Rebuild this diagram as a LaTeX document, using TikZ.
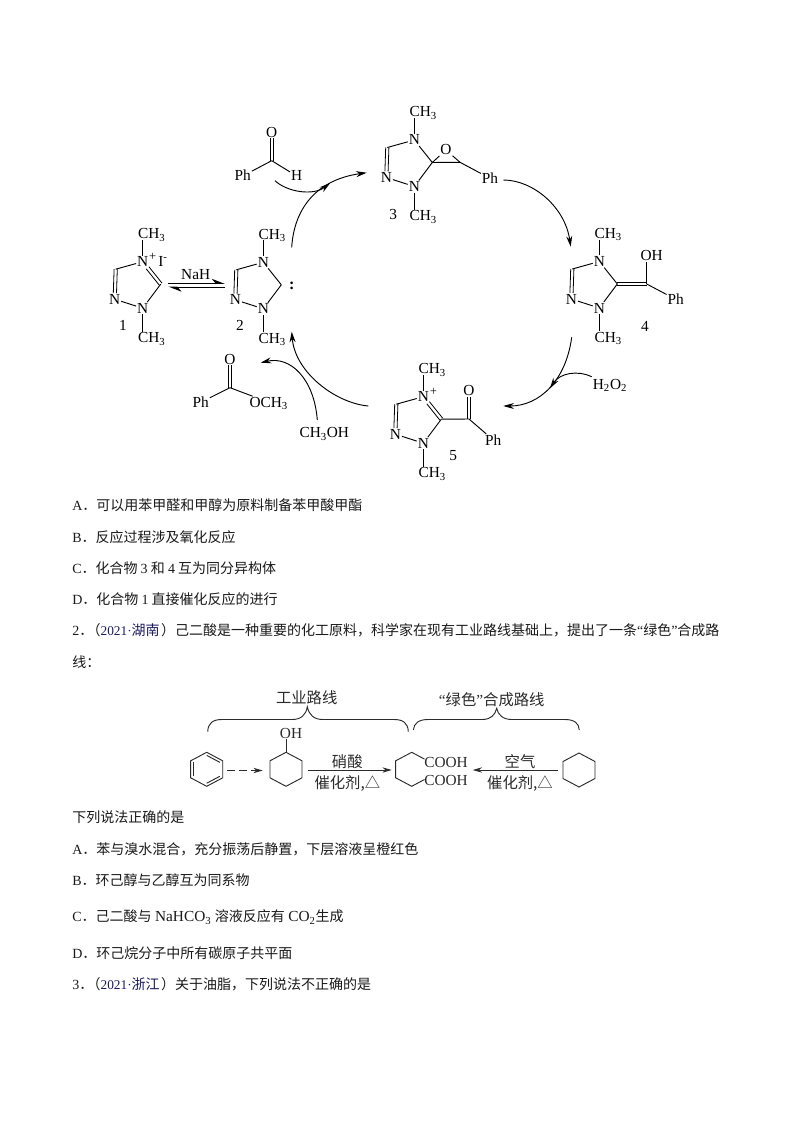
\documentclass[tikz,border=0pt]{standalone}
\usepackage{fontspec}
\setmainfont{Liberation Serif}
\newfontfamily\cjk{Noto Sans CJK SC}
\usetikzlibrary{arrows.meta,calc}
\definecolor{txt}{HTML}{1A1A1A}
\definecolor{schem}{HTML}{2B2B2B}
\definecolor{srctxt}{HTML}{1B1B5E}
\tikzset{
  atom/.style={inner sep=0.6pt,font=\fontsize{11.5}{13}\selectfont,text=black,text height=7.5pt,text depth=0pt},
  lab/.style={inner sep=0pt,font=\fontsize{11.5}{13}\selectfont,text=black,text height=7.5pt,text depth=0pt},
  bond/.style={line width=0.7pt,black},
  curvearrow/.style={line width=0.7pt,black,-{Stealth[length=8pt,width=4.5pt]}},
  line/.style={anchor=west,inner sep=0pt,font=\fontsize{10.5}{12}\selectfont,text=txt,text height=8.5pt,text depth=1.5pt},
  ring/.style={line width=0.7pt,schem},
  slab/.style={inner sep=0pt,font=\fontsize{11.5}{13}\selectfont,text=schem,text height=8pt,text depth=0pt},
  sarrow/.style={line width=0.7pt,schem,-{Stealth[length=7pt,width=4pt]}},
  brace/.style={line width=0.7pt,schem},
}
\newcommand\sub[1]{\textsubscript{#1}}
% double bond between two named points: two lines shifted by (+-dx,+-dy) pt
\newcommand\dbond[4]{%
  \draw[bond,line width=0.6pt,transform canvas={xshift=#3pt,yshift=#4pt}] (#1) -- (#2);
  \draw[bond,line width=0.6pt,transform canvas={xshift=-#3pt,yshift=-#4pt}] (#1) -- (#2);
}
\newcommand\triaz[3]{%
  \node[atom] (#1nt) at (#2,#3) {N};
  \node[atom] (#1nb) at (#2,#3+46.5) {N};
  \node[atom] (#1nl) at (#2-28,#3+37.5) {N};
  \coordinate (#1h) at (#2-27,#3+7.5);
  \coordinate (#1c) at (#2+18,#3+22.5);
  \node[atom] (#1mt) at (#2+9,#3-28) {CH\sub{3}};
  \node[atom] (#1mb) at (#2+9,#3+76) {CH\sub{3}};
  \dbond{#1h}{#1nl}{1.2}{0}
  \draw[bond] (#1h) -- (#1nt);
  \draw[bond] (#1nl) -- (#1nb);
  \draw[bond] (#1nb) -- (#1c);
  \draw[bond] (#1nt) -- (#1nt |- #1mt.south);
  \draw[bond] (#1nb) -- (#1nb |- #1mb.north);
}
\newcommand\hexring[3]{%
  \coordinate (#1o) at (#2,#3);
  \foreach \i/\a in {1/90,2/150,3/210,4/270,5/330,6/30}{\coordinate (#1\i) at ($(#2,#3)+(\a:18.5 and -17)$);}
}
\begin{document}
\begin{tikzpicture}[x=0.75pt,y=-0.75pt]
\useasboundingbox (0,0) rectangle (794,1123);
\fill[white] (0,0) rectangle (794,1123);
% compound 1
\triaz{a}{142.7}{261.7}
\dbond{ant}{ac}{1}{0.8}
\node[lab] (aplus) at (152.7,255.5) {\fontsize{9.5}{9}\selectfont +};
\node[lab] (aiod) at (163,261.7) {I\textsuperscript{-}};
\node[lab] (al) at (123,325) {1};
% compound 2
\triaz{b}{263.3}{262.3}
\draw[bond] (bnt) -- (bc);
\node[lab,font=\bfseries\fontsize{12}{12}\selectfont] (bcol) at (291.7,284) {:};
\node[lab] (bl) at (240,325) {2};
% NaH
\node[lab] (nah) at (195.7,274) {NaH};
\coordinate (e1a) at (168.3,283.5); \coordinate (e1b) at (225,283.5);
\coordinate (e2a) at (225,287); \coordinate (e2b) at (168.3,287);
\draw[line width=0.7pt,black,-{Stealth[length=9pt,width=7pt,left]}] (e1a) -- (e1b);
\draw[line width=0.7pt,black,-{Stealth[length=9pt,width=7pt,left]}] (e2a) -- (e2b);
% benzaldehyde
\node[atom] (ao) at (271.7,132.3) {O};
\coordinate (acc) at (271.7,160.7);
\node[atom] (aph) at (242.7,176) {Ph};
\node[atom] (ahh) at (296.7,176) {H};
\dbond{acc}{ao}{1.2}{0}
\draw[bond] (acc) -- (aph);
\draw[bond] (acc) -- (ahh);
% compound 3
\triaz{c}{414.3}{140}
\draw[bond] (cnt) -- (cc);
\node[atom] (co) at (446,150) {O};
\coordinate (ce) at (460,162.3);
\node[atom] (cph) at (490,178.3) {Ph};
\draw[bond] (cc) -- (co);
\draw[bond] (co) -- (ce);
\draw[bond] (cc) -- (ce);
\draw[bond] (ce) -- (cph);
\node[lab] (cl) at (393.3,214.3) {3};
% compound 4
\triaz{d}{599.3}{261.5}
\draw[bond] (dnt) -- (dc);
\coordinate (de) at (646.7,284);
\node[atom] (doh) at (651.7,255.7) {OH};
\node[atom] (dph) at (675.7,299.3) {Ph};
\dbond{dc}{de}{0}{0.9}
\draw[bond] (de) -- (de |- doh.south);
\draw[bond] (de) -- (dph);
\node[lab] (dl) at (645,326.7) {4};
% compound 5
\triaz{e}{423.3}{396.7}
\dbond{ent}{ec}{1}{0.8}
\node[lab] (eplus) at (433.5,390) {\fontsize{9.5}{9}\selectfont +};
\coordinate (ek) at (469,419);
\node[atom] (eo) at (469,390.7) {O};
\node[atom] (eph) at (493.3,440) {Ph};
\draw[bond] (ec) -- (ek);
\dbond{ek}{eo}{1.2}{0}
\draw[bond] (ek) -- (eph);
\node[lab] (el) at (453.3,455) {5};
% ester
\node[atom] (fo) at (230,359) {O};
\coordinate (fc) at (230,387.7);
\node[atom] (fph) at (200.7,402.3) {Ph};
\node[atom] (fm) at (268.7,402.3) {OCH\sub{3}};
\dbond{fc}{fo}{1.2}{0}
\draw[bond] (fc) -- (fph);
\draw[bond] (fc) -- (fm);
\node[atom] (meoh) at (324.3,432.7) {CH\sub{3}OH};
\node[atom] (hoo) at (610,384) {H\sub{2}O\sub{2}};
% cycle arrows
\coordinate (p1) at (291.7,247.3); \coordinate (p2) at (366.7,172.7);
\coordinate (p3) at (503.3,180); \coordinate (p4) at (570.7,246.7);
\coordinate (p5) at (571.7,337.3); \coordinate (p6) at (503.3,406);
\coordinate (p7) at (368.3,406); \coordinate (p8) at (291.7,331.7);
\coordinate (q1) at (275,180.7); \coordinate (q2) at (330,183.3);
\coordinate (q3) at (591.7,376.7); \coordinate (q4) at (550,388.3);
\coordinate (q5) at (317.3,420); \coordinate (q6) at (260.7,362.7);
\draw[curvearrow] (p1) .. controls (294,210) and (315,180) .. (p2);
\draw[curvearrow] (p3) .. controls (533,180) and (565,207) .. (p4);
\draw[curvearrow] (p5) .. controls (566,380) and (540,406) .. (p6);
\draw[curvearrow] (p7) .. controls (335,403) and (295,372) .. (p8);
\draw[curvearrow] (q1) .. controls (287,192) and (313,196) .. (q2);
\draw[curvearrow] (q3) .. controls (578,370) and (560,373) .. (q4);
\draw[curvearrow] (q5) .. controls (314,378) and (290,356) .. (q6);
% option lines
\node[line] (t1) at (72,506) {A\cjk．可以用苯甲醛和甲醇为原料制备苯甲酸甲酯};
\node[line] (t2) at (72,538) {B\cjk．反应过程涉及氧化反应};
\node[line] (t3) at (72,569) {C\cjk．化合物 {\rmfamily 3} 和 {\rmfamily 4} 互为同分异构体};
\node[line] (t4) at (72,600) {D\cjk．化合物 {\rmfamily 1} 直接催化反应的进行};
\node[line] (t5) at (72,631) {2{\cjk．\hspace{-5pt}（}\textcolor{srctxt}{\fontsize{10}{12}\selectfont 2021·\cjk\fontsize{10.5}{12}\selectfont 湖南}\hspace{1pt}{\cjk ）己二酸是一种重要的化工原料，科学家在现有工业路线基础上，提出了一条}“{\cjk 绿色}”{\cjk 合成路}};
\node[line] (t6) at (72,663) {\cjk 线：};
\node[line] (t7) at (72,818) {\cjk 下列说法正确的是};
\node[line] (t8) at (72,850) {A\cjk．苯与溴水混合，充分振荡后静置，下层溶液呈橙红色};
\node[line] (t9) at (72,881) {B\cjk．环己醇与乙醇互为同系物};
\node[line] (t10) at (72,917) {C{\cjk．己二酸与} {\fontsize{11.5}{12}\selectfont NaHCO\sub{3}} {\cjk 溶液反应有} {\fontsize{11.5}{12}\selectfont CO\sub{2}}{\cjk 生成}};
\node[line] (t11) at (72,954) {D\cjk．环己烷分子中所有碳原子共平面};
\node[line] (t12) at (72,985) {3{\cjk．\hspace{-5pt}（}\textcolor{srctxt}{\fontsize{10}{12}\selectfont 2021·\cjk\fontsize{10.5}{12}\selectfont 浙江}\hspace{1pt}{\cjk ）关于油脂，下列说法不正确的是}};
% adipic scheme
\node[slab] (s1) at (306.7,698.3) {\cjk 工业路线};
\node[slab] (s2) at (491.7,700) {“{\cjk 绿色}”{\cjk 合成路线}};
\coordinate (b1l) at (207.7,731.7); \coordinate (b1t) at (307.3,706.7); \coordinate (b1r) at (408.3,731.7);
\coordinate (b2l) at (413.3,730); \coordinate (b2t) at (496.7,708.3); \coordinate (b2r) at (579.3,730);
\draw[brace] (b1l) .. controls (208,723) and (213,719.5) .. (222,719.5) -- (292,719.5) .. controls (301,719.5) and (306,715) .. (b1t) .. controls (309,715) and (314,719.5) .. (323,719.5) -- (394,719.5) .. controls (403,719.5) and (408,723) .. (b1r);
\draw[brace] (b2l) .. controls (414,723) and (419,719.5) .. (428,719.5) -- (482,719.5) .. controls (491,719.5) and (495,715) .. (b2t) .. controls (498,715) and (503,719.5) .. (512,719.5) -- (565,719.5) .. controls (574,719.5) and (579,723) .. (b2r);
% benzene
\hexring{g}{206.7}{769.3}
\draw[ring] (g1)--(g2)--(g3)--(g4)--(g5)--(g6)--cycle;
\draw[ring] ($(go)!0.82!(g1)$) -- ($(go)!0.82!(g6)$);
\draw[ring] ($(go)!0.82!(g2)$) -- ($(go)!0.82!(g3)$);
\draw[ring] ($(go)!0.82!(g4)$) -- ($(go)!0.82!(g5)$);
% cyclohexanol
\hexring{h}{286}{769.3}
\draw[ring] (h1)--(h2)--(h3)--(h4)--(h5)--(h6)--cycle;
\node[slab] (hoh) at (291,733.3) {OH};
\draw[ring] (h1) -- (h1 |- hoh.south);
% adipic acid
\hexring{k}{411.7}{769.3}
\node[slab] (k1t) at (446,762.3) {COOH};
\node[slab] (k2t) at (446,780) {COOH};
\draw[ring] ($(k1)!0.8!(k6)$) -- (k1) -- (k2) -- (k3) -- (k4) -- ($(k4)!0.8!(k5)$);
% cyclohexane
\hexring{m}{579}{770}
\draw[ring] (m1)--(m2)--(m3)--(m4)--(m5)--(m6)--cycle;
% scheme arrows
\coordinate (r1) at (227.3,770.5); \coordinate (r2) at (262.7,770.5);
\coordinate (r3) at (308.3,770); \coordinate (r4) at (391.7,770);
\coordinate (r5) at (558.3,770); \coordinate (r6) at (472.7,770);
\draw[sarrow,dash pattern=on 6pt off 3pt] (r1) -- (r2);
\draw[sarrow] (r3) -- (r4);
\draw[sarrow] (r5) -- (r6);
\node[slab] (l1) at (347.3,761.7) {\cjk 硝酸};
\node[slab] (l2) at (347.3,782.7) {\cjk 催化剂,△};
\node[slab] (l3) at (520,761.7) {\cjk 空气};
\node[slab] (l4) at (520,782.7) {\cjk 催化剂,△};
\end{tikzpicture}
\end{document}
